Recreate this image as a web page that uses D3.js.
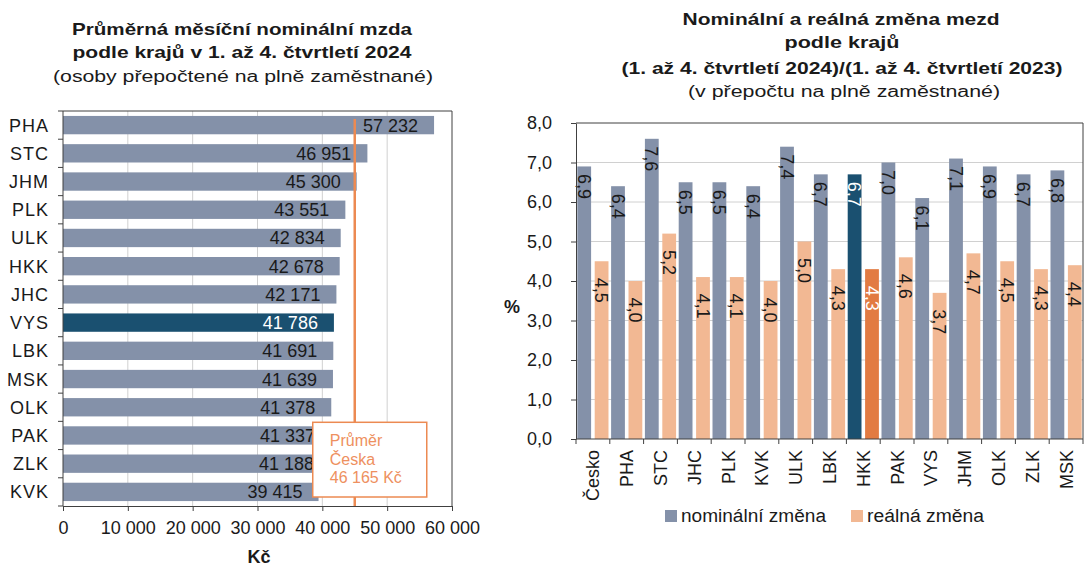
<!DOCTYPE html>
<html>
<head>
<meta charset="utf-8">
<script src="https://cdn.jsdelivr.net/npm/d3@7"></script>
<style>
    body { margin: 0; background: #fff; }
    svg { display: block; font-family: "Liberation Sans", Arial, sans-serif; }
</style>
</head>
<body>
<div id="chart"></div>
<script>
// Left chart: average monthly wage by region
const regions = ["PHA", "STC", "JHM", "PLK", "ULK", "HKK", "JHC", "VYS", "LBK", "MSK", "OLK", "PAK", "ZLK", "KVK"];
const wages = [57232, 46951, 45300, 43551, 42834, 42678, 42171, 41786, 41691, 41639, 41378, 41337, 41188, 39415];
const wageTicks = [0, 10000, 20000, 30000, 40000, 50000, 60000];
const highlightRegion = "VYS";
const avgLineValue = 45000; // where the reference draws the average line
const avgLabel = ["Průměr", "Česka", "46 165 Kč"];

// Right chart: nominal and real change by region
const changeCats = ["Česko", "PHA", "STC", "JHC", "PLK", "KVK", "ULK", "LBK", "HKK", "PAK", "VYS", "JHM", "OLK", "ZLK", "MSK"];
const nominal = [6.9, 6.4, 7.6, 6.5, 6.5, 6.4, 7.4, 6.7, 6.7, 7.0, 6.1, 7.1, 6.9, 6.7, 6.8];
const real = [4.5, 4.0, 5.2, 4.1, 4.1, 4.0, 5.0, 4.3, 4.3, 4.6, 3.7, 4.7, 4.5, 4.3, 4.4];
const pctTicks = [0, 1, 2, 3, 4, 5, 6, 7, 8];
const highlightCat = "HKK";
const seriesNames = ["nominální změna", "reálná změna"];

const GRAY = "#8491a9", DARK = "#1a5070", SALMON = "#f2b893", ORANGE = "#e27b42";
const TXT = "#1a1a1a", GRID = "#d0d0d0", FRAME = "#404040";
const FS = 18; // body font size

const cz = d3.formatLocale({ decimal: ",", thousands: " ", grouping: [3], currency: ["", ""] });
const fInt = cz.format(",d");
const fDec = cz.format(".1f");

const svg = d3.select("#chart").append("svg")
    .attr("width", 1085)
    .attr("height", 569);

// title lines are wide in the reference, so stretch them to its widths
function titleLine(g, cx, cy, size, bold, width, text) {
    g.append("text")
        .attr("x", cx).attr("y", cy)
        .attr("font-size", size)
        .attr("font-weight", bold ? "bold" : null)
        .attr("textLength", width)
        .attr("lengthAdjust", "spacingAndGlyphs")
        .text(text);
}

// ---------- left chart ----------
const L = { left: 63, right: 452, top: 111, bottom: 506 };

const x = d3.scaleLinear().domain([0, 60000]).range([L.left, L.right]);
const y = d3.scaleBand().domain(regions).range([L.top, L.bottom])
    .paddingInner(0.35).paddingOuter(0.175);

const leftTitle = svg.append("g").attr("text-anchor", "middle").attr("fill", TXT);
titleLine(leftTitle, 242, 35, 17, true, 340, "Průměrná měsíční nominální  mzda");
titleLine(leftTitle, 242, 58, 17, true, 339, "podle krajů v 1. až 4. čtvrtletí 2024");
titleLine(leftTitle, 243, 82, 16, false, 380, "(osoby přepočtené na plně zaměstnané)");

// vertical gridlines
svg.append("g").selectAll("line")
    .data(wageTicks.slice(1, -1))
    .join("line")
    .attr("x1", (d) => x(d)).attr("x2", (d) => x(d))
    .attr("y1", L.top).attr("y2", L.bottom)
    .attr("stroke", GRID);

// frame (top + right)
svg.append("path")
    .attr("d", `M${L.left},${L.top}H${L.right}V${L.bottom}`)
    .attr("fill", "none").attr("stroke", FRAME);

// bars
svg.append("g").selectAll("rect")
    .data(regions)
    .join("rect")
    .attr("x", x(0))
    .attr("y", (d) => y(d))
    .attr("width", (d, i) => x(wages[i]) - x(0))
    .attr("height", y.bandwidth())
    .attr("fill", (d) => d === highlightRegion ? DARK : GRAY);

// value labels
svg.append("g").selectAll("text")
    .data(regions)
    .join("text")
    .attr("x", (d, i) => x(wages[i]) - 16)
    .attr("y", (d) => y(d) + y.bandwidth() / 2)
    .attr("dy", "0.36em")
    .attr("text-anchor", "end")
    .attr("font-size", FS)
    .attr("fill", (d) => d === highlightRegion ? "#fff" : TXT)
    .text((d, i) => fInt(wages[i]));

// average line
const avgX = x(avgLineValue);
svg.append("line")
    .attr("x1", avgX).attr("x2", avgX)
    .attr("y1", y(regions[0]) + 3).attr("y2", L.bottom)
    .attr("stroke", "#ec8a52").attr("stroke-width", 2.5);

// annotation box
const boxTop = y("PAK") - 4;
svg.append("rect")
    .attr("x", avgX - 42).attr("y", boxTop)
    .attr("width", 114).attr("height", L.bottom - 9 - boxTop)
    .attr("fill", "#fff").attr("stroke", "#ec8a52").attr("stroke-width", 1.5);
svg.append("g").selectAll("text")
    .data(avgLabel)
    .join("text")
    .attr("x", avgX - 25)
    .attr("y", (d, i) => boxTop + 24 + i * 18.5)
    .attr("font-size", 16)
    .attr("fill", "#ee9060")
    .text((d) => d);

// x axis
svg.append("g")
    .attr("transform", `translate(0,${L.bottom})`)
    .call(d3.axisBottom(x).tickValues(wageTicks).tickFormat(fInt).tickSize(5).tickSizeOuter(0).tickPadding(10))
    .call((g) => g.selectAll("text").attr("font-size", FS).attr("fill", TXT).attr("font-family", null))
    .call((g) => g.selectAll("line,path").attr("stroke", FRAME));

svg.append("text")
    .attr("x", 259).attr("y", 563)
    .attr("text-anchor", "middle")
    .attr("font-size", FS).attr("font-weight", "bold").attr("fill", TXT)
    .text("Kč");

// y axis: line with ticks between categories
svg.append("line")
    .attr("x1", L.left).attr("x2", L.left)
    .attr("y1", L.top).attr("y2", L.bottom)
    .attr("stroke", FRAME);
svg.append("g").selectAll("line")
    .data(d3.range(regions.length + 1))
    .join("line")
    .attr("x1", L.left - 5).attr("x2", L.left)
    .attr("y1", (i) => L.top + i * y.step()).attr("y2", (i) => L.top + i * y.step())
    .attr("stroke", FRAME);
svg.append("g").selectAll("text")
    .data(regions)
    .join("text")
    .attr("x", 49)
    .attr("y", (d) => y(d) + y.bandwidth() / 2)
    .attr("dy", "0.36em")
    .attr("text-anchor", "end")
    .attr("font-size", FS)
    .attr("letter-spacing", 1)
    .attr("fill", TXT)
    .text((d) => d);

// ---------- right chart ----------
const R = { left: 576, right: 1083, top: 123, bottom: 439 };

const yR = d3.scaleLinear().domain([0, 8]).range([R.bottom, R.top]);
const x0 = d3.scaleBand().domain(changeCats).range([R.left, R.right]);
const x1 = d3.scaleBand().domain(["nom", "real"]).range([0, x0.bandwidth()])
    .paddingInner(0.207).paddingOuter(0.075);

const rightTitle = svg.append("g").attr("text-anchor", "middle").attr("fill", TXT);
titleLine(rightTitle, 841, 25, 17, true, 317, "Nominální  a reálná změna mezd");
titleLine(rightTitle, 842, 48, 17, true, 115, "podle krajů");
titleLine(rightTitle, 842, 74, 17, true, 441, "(1. až 4. čtvrtletí 2024)/(1. až 4. čtvrtletí 2023)");
titleLine(rightTitle, 844, 97, 16, false, 312, "(v  přepočtu na plně zaměstnané)");

// horizontal gridlines
svg.append("g").selectAll("line")
    .data(pctTicks.slice(1, -1))
    .join("line")
    .attr("x1", R.left).attr("x2", R.right)
    .attr("y1", (d) => yR(d)).attr("y2", (d) => yR(d))
    .attr("stroke", GRID);

svg.append("path")
    .attr("d", `M${R.left},${R.top}H${R.right}V${R.bottom}`)
    .attr("fill", "none").attr("stroke", FRAME);

// grouped bars
const rows = changeCats.map((c, i) => ({ cat: c, nom: nominal[i], real: real[i] }));
const groups = svg.append("g").selectAll("g")
    .data(rows)
    .join("g")
    .attr("transform", (d) => `translate(${x0(d.cat)},0)`);

const barData = (d) => [
    { key: "nom", v: d.nom, hi: d.cat === highlightCat },
    { key: "real", v: d.real, hi: d.cat === highlightCat }
];

groups.selectAll("rect")
    .data(barData)
    .join("rect")
    .attr("x", (b) => x1(b.key))
    .attr("y", (b) => yR(b.v))
    .attr("width", x1.bandwidth())
    .attr("height", (b) => yR(0) - yR(b.v))
    .attr("fill", (b) => b.key === "nom" ? (b.hi ? DARK : GRAY) : (b.hi ? ORANGE : SALMON));

groups.selectAll("text")
    .data(barData)
    .join("text")
    .attr("transform", (b) => `translate(${x1(b.key) + x1.bandwidth() / 2},${yR(b.v) + (b.key === "nom" ? 20 : 29)}) rotate(90)`)
    .attr("dy", "0.36em")
    .attr("text-anchor", "middle")
    .attr("font-size", FS)
    .attr("fill", (b) => b.hi ? "#fff" : TXT)
    .text((b) => fDec(b.v));

// y axis
svg.append("g")
    .attr("transform", `translate(${R.left},0)`)
    .call(d3.axisLeft(yR).tickValues(pctTicks).tickFormat(fDec).tickSize(5).tickSizeOuter(0).tickPadding(19))
    .call((g) => g.selectAll("text").attr("font-size", FS).attr("fill", TXT).attr("font-family", null))
    .call((g) => g.selectAll("line,path").attr("stroke", FRAME));

svg.append("text")
    .attr("x", 512).attr("y", 313)
    .attr("text-anchor", "middle")
    .attr("font-size", FS).attr("font-weight", "bold").attr("fill", TXT)
    .text("%");

// x axis: line, ticks between categories, rotated labels
svg.append("line")
    .attr("x1", R.left).attr("x2", R.right)
    .attr("y1", R.bottom).attr("y2", R.bottom)
    .attr("stroke", FRAME);
svg.append("g").selectAll("line")
    .data(d3.range(changeCats.length + 1))
    .join("line")
    .attr("x1", (i) => R.left + i * x0.step()).attr("x2", (i) => R.left + i * x0.step())
    .attr("y1", R.bottom).attr("y2", R.bottom + 5)
    .attr("stroke", FRAME);
svg.append("g").selectAll("text")
    .data(changeCats)
    .join("text")
    .attr("transform", (d) => `translate(${x0(d) + x0.bandwidth() / 2},${R.bottom + 11}) rotate(-90)`)
    .attr("dy", "0.36em")
    .attr("text-anchor", "end")
    .attr("font-size", FS)
    .attr("fill", TXT)
    .text((d) => d);

// legend
const legend = svg.append("g").attr("transform", "translate(665,510)");
const legX = [0, 186];
const legW = [145, 117];
const legColors = [GRAY, SALMON];
seriesNames.forEach((name, i) => {
    legend.append("rect")
        .attr("x", legX[i]).attr("y", 0)
        .attr("width", 12).attr("height", 12)
        .attr("fill", legColors[i]);
    legend.append("text")
        .attr("x", legX[i] + 16).attr("y", 6)
        .attr("dy", "0.36em")
        .attr("font-size", FS)
        .attr("textLength", legW[i])
        .attr("lengthAdjust", "spacingAndGlyphs")
        .attr("fill", TXT)
        .text(name);
});
</script>
</body>
</html>
